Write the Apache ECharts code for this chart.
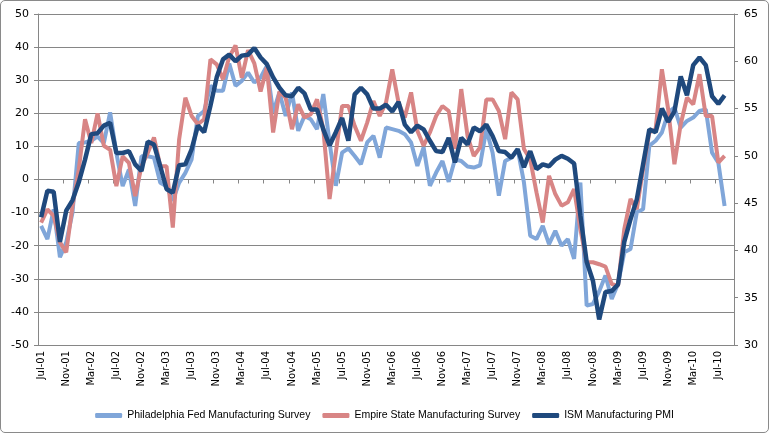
<!DOCTYPE html>
<html><head><meta charset="utf-8">
<script src="https://cdn.jsdelivr.net/npm/echarts@6/dist/echarts.min.js"></script>
<style>
html,body{margin:0;padding:0;background:#fff}
#c{position:absolute;left:0;top:0;width:769px;height:433px}
#b{position:absolute;left:0;top:0;width:767px;height:431px;border:1px solid #8a8a8a;border-radius:5px;pointer-events:none}
</style>
</head><body><div id="c"></div><div id="b"></div>
<script>
const categories = [
 'Jul-01','Aug-01','Sep-01','Oct-01','Nov-01','Dec-01',
 'Jan-02','Feb-02','Mar-02','Apr-02','May-02','Jun-02','Jul-02','Aug-02','Sep-02','Oct-02','Nov-02','Dec-02',
 'Jan-03','Feb-03','Mar-03','Apr-03','May-03','Jun-03','Jul-03','Aug-03','Sep-03','Oct-03','Nov-03','Dec-03',
 'Jan-04','Feb-04','Mar-04','Apr-04','May-04','Jun-04','Jul-04','Aug-04','Sep-04','Oct-04','Nov-04','Dec-04',
 'Jan-05','Feb-05','Mar-05','Apr-05','May-05','Jun-05','Jul-05','Aug-05','Sep-05','Oct-05','Nov-05','Dec-05',
 'Jan-06','Feb-06','Mar-06','Apr-06','May-06','Jun-06','Jul-06','Aug-06','Sep-06','Oct-06','Nov-06','Dec-06',
 'Jan-07','Feb-07','Mar-07','Apr-07','May-07','Jun-07','Jul-07','Aug-07','Sep-07','Oct-07','Nov-07','Dec-07',
 'Jan-08','Feb-08','Mar-08','Apr-08','May-08','Jun-08','Jul-08','Aug-08','Sep-08','Oct-08','Nov-08','Dec-08',
 'Jan-09','Feb-09','Mar-09','Apr-09','May-09','Jun-09','Jul-09','Aug-09','Sep-09','Oct-09','Nov-09','Dec-09',
 'Jan-10','Feb-10','Mar-10','Apr-10','May-10','Jun-10','Jul-10','Aug-10','Sep-10'
];
const phillyFed = [
 -14,-18,-9,-23.5,-19,-10,11,11.2,11.7,13,
 11,20.3,8,-2,3,-8,7,7,6.6,-1,
 -2,-6.4,-1,2,6.1,19.2,20.7,28.3,26.8,26.8,
 35,28.3,29.8,32.3,29.3,30.8,34.3,20.2,26.3,19.2,
 26.3,14.7,19.2,18.2,15.2,25.8,11.2,-1.9,8.1,9.4,
 7.1,4.6,11.2,13.2,6.6,15.7,15.2,14.7,13.7,11.2,
 4.1,9.7,-1.9,2.1,5.6,-0.7,6.1,5.6,3.9,3.6,
 4.3,15.2,8.1,-4.9,5.6,6.6,9.2,-0.9,-17,-18,
 -14,-19.5,-15.5,-20,-18,-24,-0.9,-38.1,-37.6,-33.8,
 -29,-36.1,-31.6,-22,-21,-9.9,-9,10.2,11.7,14.2,
 20.2,21.7,15.7,17.7,18.7,20.7,21.2,8.1,5.1,-8
];
const empireState = [
 -13,-9,-11,-19,-22,-8,3,18.2,11,20,
 10.2,9,-2,7,5,-5,4,8,12.7,4,
 4,-14.5,12,24.7,19.2,16.7,18.2,36.3,34.8,30.3,
 37,40.5,30.7,39.1,35.1,26.6,33.8,14.2,26.6,24.7,
 15.2,22.7,18.7,19.7,24.2,15.2,-5.9,8.1,22.2,22.2,
 16.2,11.7,17.2,23.7,19.2,23.2,33.3,23.2,18.7,26.3,
 14.7,10.2,14.2,19.2,22.2,20.7,9.2,27.3,13.2,7.1,
 9.7,24.2,24.2,20.7,12.2,26.3,24.2,9.2,6.1,-3.9,
 -13,1.1,-4.4,-7.9,-6.9,-2.9,-15,-25,-25,-25.6,
 -26.3,-31.6,-32.1,-15,-5.9,-9,3.1,14.2,15.2,33.3,
 21.2,4.6,16.7,24.7,22.7,31.8,19.2,19.2,5.1,7.1
];
const ismPMI = [
 43.5,46.3,46.2,40.9,44.2,45.3,47.2,49.6,52.3,52.4,
 53.2,53.5,50.3,50.3,50.5,49.1,48.4,51.5,51.2,48.9,
 46.5,46.1,49.0,49.1,50.7,53.2,52.5,55.3,58.3,60.2,
 60.7,60.0,60.6,60.7,61.4,60.4,59.7,58.3,57.2,56.4,
 56.3,57.2,56.6,54.9,54.9,52.8,51.1,52.5,54.0,51.6,
 56.5,57.2,56.5,55.0,55.0,55.4,54.7,55.7,53.3,52.5,
 53.2,52.8,51.6,50.5,50.4,51.9,49.3,51.9,51.2,53.0,
 52.6,53.3,52.1,50.5,50.4,49.8,50.7,48.8,50.5,48.6,
 49.1,48.9,49.6,50.0,49.7,49.2,43.7,38.8,36.8,32.7,
 35.6,35.7,36.4,40.9,43.3,45.4,49.1,52.8,52.5,55.0,
 53.6,54.7,58.4,56.4,59.6,60.4,59.6,56.3,55.5,56.4
];
const leftTicks = {min:-50, max:50, interval:10};
const rightTicks = {min:30, max:65, interval:5};

const gridCol = '#868686';
const chart = echarts.init(document.getElementById('c'), null, {renderer:'canvas'});
chart.setOption({
  animation:false,
  backgroundColor:'#fff',
  grid:{left:38, right:35, top:14, bottom:88},
  legend:{
    top:405, left:'center', itemWidth:27, itemHeight:5, itemGap:12, icon:'roundRect',
    textStyle:{fontSize:10.5, fontFamily:'Liberation Sans', color:'#000'},
    data:['Philadelphia Fed Manufacturing Survey','Empire State Manufacturing Survey','ISM Manufacturing PMI']
  },
  xAxis:[
    {type:'category', data:categories, boundaryGap:true, position:'bottom',
     axisLine:{show:false, onZero:false}, axisTick:{show:false},
     axisLabel:{interval:3, rotate:90, fontSize:10, fontFamily:'DejaVu Sans', color:'#000', margin:6},
     splitLine:{show:false}},
    {type:'category', data:categories, boundaryGap:true, position:'bottom',
     axisLine:{show:true, onZero:true, onZeroAxisIndex:0, lineStyle:{color:gridCol, width:1}},
     axisTick:{show:true, interval:3, length:4, lineStyle:{color:gridCol}},
     axisLabel:{show:false}, splitLine:{show:false}}
  ],
  yAxis:[
    {type:'value', min:leftTicks.min, max:leftTicks.max, interval:leftTicks.interval, position:'left',
     axisLine:{show:true, lineStyle:{color:gridCol}},
     axisTick:{show:true, length:4, lineStyle:{color:gridCol}},
     splitLine:{show:true, lineStyle:{color:gridCol, width:1}},
     axisLabel:{fontSize:11, fontFamily:'DejaVu Sans', color:'#000', margin:9}},
    {type:'value', min:rightTicks.min, max:rightTicks.max, interval:rightTicks.interval, position:'right',
     axisLine:{show:true, lineStyle:{color:gridCol}},
     axisTick:{show:true, length:4, lineStyle:{color:gridCol}},
     splitLine:{show:false},
     axisLabel:{fontSize:11, fontFamily:'DejaVu Sans', color:'#000', margin:10}}
  ],
  series:[
    {name:'Philadelphia Fed Manufacturing Survey', type:'line', xAxisIndex:0, yAxisIndex:0, data:phillyFed,
     symbol:'none', lineStyle:{width:4, color:'#80A6D9'}, itemStyle:{color:'#80A6D9'}, emphasis:{disabled:true}},
    {name:'Empire State Manufacturing Survey', type:'line', xAxisIndex:0, yAxisIndex:0, data:empireState,
     symbol:'none', lineStyle:{width:4, color:'#D88585'}, itemStyle:{color:'#D88585'}, emphasis:{disabled:true}},
    {name:'ISM Manufacturing PMI', type:'line', xAxisIndex:0, yAxisIndex:1, data:ismPMI,
     symbol:'none', lineStyle:{width:4.5, color:'#1F497D'}, itemStyle:{color:'#1F497D'}, emphasis:{disabled:true}}
  ]
});
</script></body></html>
